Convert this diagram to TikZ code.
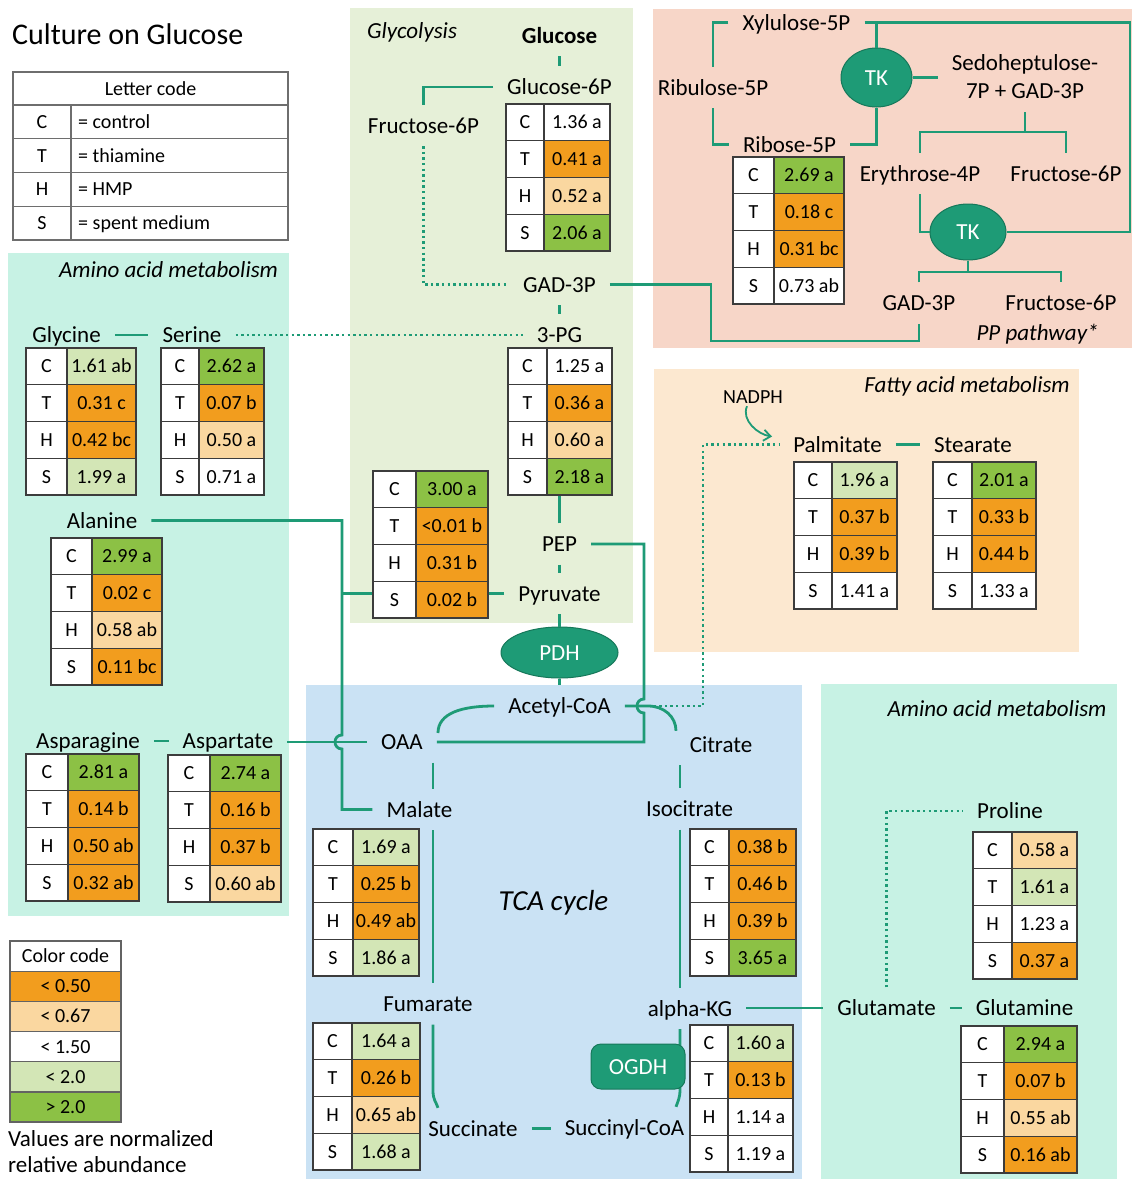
\documentclass[tikz,border=0pt]{standalone}
\usepackage{fontspec}
\setmainfont{Carlito}
\usetikzlibrary{shapes.geometric,arrows.meta,calc}

\definecolor{tealc}{RGB}{30,155,118}
\definecolor{tealdark}{RGB}{22,120,90}
\definecolor{cO}{RGB}{242,157,30}
\definecolor{cLO}{RGB}{250,215,160}
\definecolor{cLG}{RGB}{211,230,182}
\definecolor{cG}{RGB}{140,193,69}
\definecolor{bgGly}{RGB}{230,240,216}
\definecolor{bgPP}{RGB}{247,214,200}
\definecolor{bgFA}{RGB}{252,232,208}
\definecolor{bgAA}{RGB}{199,242,228}
\definecolor{bgTCA}{RGB}{202,226,244}
\definecolor{tabgray}{RGB}{60,60,60}
\definecolor{leggray}{RGB}{110,110,110}

\tikzset{
 lab/.style={font=\fontsize{23}{27}\selectfont, text height=15pt, text depth=0pt, inner xsep=14pt, inner ysep=13pt},
 labtwo/.style={font=\fontsize{23}{28}\selectfont, align=center, inner xsep=14pt, inner ysep=13pt},
 hdr/.style={font=\fontsize{23}{27}\selectfont\itshape, text height=15pt, text depth=0pt, inner sep=0pt},
 conn/.style={draw=tealc, line width=2.8pt},
 dotconn/.style={draw=tealc, line width=2.6pt, dash pattern=on 2.4pt off 3.2pt},
 cell/.style={draw=tabgray, line width=1.3pt, inner sep=0pt, minimum height=36.75pt, font=\fontsize{20}{24}\selectfont, text height=13pt, text depth=0pt},
 lcell/.style={draw=leggray, line width=1.3pt, inner sep=0pt, fill=white, font=\fontsize{20}{24}\selectfont, text height=13pt, text depth=0pt},
 ltxt/.style={inner sep=0pt, font=\fontsize{20}{24}\selectfont, text height=13pt, text depth=0pt},
 enz/.style={ellipse, fill=tealc, draw=tealdark, line width=1pt, text=white, inner sep=0pt, font=\fontsize{23}{27}\selectfont, text height=15pt, text depth=0pt},
 enzrect/.style={rectangle, rounded corners=10pt, fill=tealc, draw=tealdark, line width=1pt, text=white, inner sep=0pt, font=\fontsize{23}{27}\selectfont, text height=15pt, text depth=0pt},
}

\newcommand{\mtab}[6]{%
  \foreach \mtL/\mtC/\mtV [count=\mti from 0] in {#6}{%
    \pgfmathsetmacro{\mty}{#5+36.75*(\mti+0.5)}%
    \pgfmathsetmacro{\mtxa}{(#2+#3)/2}%
    \pgfmathsetmacro{\mtxb}{(#3+#4)/2}%
    \pgfmathsetmacro{\mtwa}{#3-#2}%
    \pgfmathsetmacro{\mtwb}{#4-#3}%
    \node[cell, fill=white, minimum width=\mtwa] (#1-l\mti) at (\mtxa,\mty) {\mtL};
    \node[cell, fill=\mtC, minimum width=\mtwb] (#1-v\mti) at (\mtxb,\mty) {\mtV};
  }%
}

\begin{document}
\begin{tikzpicture}[x=1pt,y=-1pt]
\useasboundingbox (0,0) rectangle (1132,1179);
\fill[white] (0,0) rectangle (1132,1179);

% backgrounds
\fill[bgGly] (350,8) rectangle (633,623);
\fill[bgPP] (653,9) rectangle (1132,348);
\fill[bgAA] (8,253) rectangle (289,916);
\fill[bgFA] (654,369) rectangle (1079,652);
\fill[bgTCA] (306,685) rectangle (802,1179);
\fill[bgAA] (821,684) rectangle (1117,1179);

% title
\node[anchor=base west, inner sep=0pt, font=\fontsize{30}{36}\selectfont] (title) at (12,44.5) {Culture on Glucose};

% letter code table
\node[lcell, minimum width=275, minimum height=33] (lc-h) at (150.5,88.5) {Letter code};
\foreach \a/\b [count=\i from 0] in {C/= control, T/= thiamine, H/= HMP, S/= spent medium}{
  \pgfmathsetmacro{\ly}{105+33.75*(\i+0.5)}
  \node[lcell, minimum width=58, minimum height=33.75] (lc-l\i) at (42,\ly) {\a};
  \node[lcell, minimum width=217, minimum height=33.75] (lc-r\i) at (179.5,\ly) {};
  \node[ltxt, anchor=west] (lc-t\i) at (78,\ly) {\b};
}

% color code table
\foreach \cc/\ct [count=\i from 0] in {white/Color code, cO/< 0.50, cLO/< 0.67, white/< 1.50, cLG/< 2.0, cG/> 2.0}{
  \pgfmathsetmacro{\cy}{941+30.17*(\i+0.5)}
  \node[lcell, draw=tabgray!80, fill=\cc, minimum width=111, minimum height=30.17] (cc-\i) at (65.5,\cy) {\ct};
}
\node[anchor=base west, inner sep=0pt, font=\fontsize{23}{28}\selectfont] (note1) at (8,1146.5) {Values are normalized};
\node[anchor=base west, inner sep=0pt, font=\fontsize{23}{28}\selectfont] (note2) at (8,1172) {relative abundance};

% ---------- labels ----------
% glycolysis
\node[hdr] (glyh) at (412,30.5) {Glycolysis};
\node[lab, font=\fontsize{23}{27}\selectfont\bfseries] (glucose) at (559.5,35.5) {Glucose};
\node[lab] (glu6p) at (559.5,87) {Glucose-6P};
\node[lab] (fru6p) at (423.5,125.5) {Fructose-6P};
\node[lab] (gad) at (559.5,284.5) {GAD-3P};
\node[lab] (pg3) at (559.5,335) {3-PG};
\node[lab] (pep) at (559.5,544) {PEP};
\node[lab] (pyr) at (559.5,593.5) {Pyruvate};
\node[enz, minimum width=117, minimum height=51] (pdh) at (559.5,652.5) {PDH};
\node[lab] (acoa) at (559.5,706) {Acetyl-CoA};

% TCA
\node[lab] (oaa) at (402,742) {OAA};
\node[lab] (citrate) at (721,744.5) {Citrate};
\node[lab] (malate) at (419.5,809.5) {Malate};
\node[lab] (isocit) at (689.5,809) {Isocitrate};
\node[lab] (fumarate) at (428,1004) {Fumarate};
\node[lab] (akg) at (690,1008.5) {alpha-KG};
\node[lab] (succ) at (473,1128.5) {Succinate};
\node[lab] (succoa) at (624.5,1127.5) {Succinyl-CoA};
\node[hdr, font=\fontsize{29}{33}\selectfont\itshape, text height=19pt] (tca) at (553.5,900.5) {TCA cycle};

% right amino acids
\node[hdr] (aa2) at (997,709) {Amino acid metabolism};
\node[lab] (glutamate) at (886.5,1008) {Glutamate};
\node[lab] (glutamine) at (1024.5,1008) {Glutamine};
\node[lab] (proline) at (1010,811) {Proline};

% left amino acids
\node[hdr] (aa1) at (168.5,270) {Amino acid metabolism};
\node[lab] (glycine) at (66.5,335) {Glycine};
\node[lab] (serine) at (192,335) {Serine};
\node[lab] (alanine) at (102,520.5) {Alanine};
\node[lab] (asparagine) at (88,741) {Asparagine};
\node[lab] (aspartate) at (228,741) {Aspartate};

% fatty acids
\node[hdr] (fah) at (967,384.5) {Fatty acid metabolism};
\node[lab, font=\fontsize{20}{24}\selectfont, inner sep=3pt, text height=13pt] (nadph) at (753,396.5) {NADPH};
\node[lab] (palmitate) at (837.5,444.5) {Palmitate};
\node[lab] (stearate) at (973,444.5) {Stearate};

% PP pathway
\node[lab] (xyl) at (796.5,22.5) {Xylulose-5P};
\node[lab] (rul) at (713,87.5) {Ribulose-5P};
\node[lab] (rib) at (789.5,144.5) {Ribose-5P};
\node[labtwo] (sedo) at (1025,77) {Sedoheptulose-\\7P + GAD-3P};
\node[lab] (ery) at (920,173.5) {Erythrose-4P};
\node[lab] (fru6pa) at (1066,173.5) {Fructose-6P};
\node[lab] (gadpp) at (919,303) {GAD-3P};
\node[lab] (fru6pb) at (1061,303) {Fructose-6P};
\node[hdr] (pph) at (1037.5,332.5) {PP pathway*};

% ---------- tables ----------
\mtab{t-g6p}{506}{544}{610}{104}{C/white/1.36 a, T/cO/0.41 a, H/cLO/0.52 a, S/cG/2.06 a}
\mtab{t-r5p}{733}{774}{844}{157}{C/cG/2.69 a, T/cO/0.18 c, H/cO/0.31 bc, S/white/0.73 ab}
\mtab{t-pg3}{508}{547}{612}{348}{C/white/1.25 a, T/cO/0.36 a, H/cLO/0.60 a, S/cG/2.18 a}
\mtab{t-pyr}{373}{416}{488}{471}{C/cG/3.00 a, T/cO/<0.01 b, H/cO/0.31 b, S/cO/0.02 b}
\mtab{t-gly}{26}{67}{136}{348}{C/cLG/1.61 ab, T/cO/0.31 c, H/cO/0.42 bc, S/cLG/1.99 a}
\mtab{t-ser}{161}{199}{264}{348}{C/cG/2.62 a, T/cO/0.07 b, H/cLO/0.50 a, S/white/0.71 a}
\mtab{t-ala}{51}{92}{162}{538}{C/cG/2.99 a, T/cO/0.02 c, H/cLO/0.58 ab, S/cO/0.11 bc}
\mtab{t-asn}{26}{68}{139}{754}{C/cG/2.81 a, T/cO/0.14 b, H/cO/0.50 ab, S/cO/0.32 ab}
\mtab{t-asp}{168}{210}{281}{755}{C/cG/2.74 a, T/cO/0.16 b, H/cO/0.37 b, S/cLO/0.60 ab}
\mtab{t-pal}{794}{832}{897}{462}{C/cLG/1.96 a, T/cO/0.37 b, H/cO/0.39 b, S/white/1.41 a}
\mtab{t-ste}{933}{972}{1036}{462}{C/cG/2.01 a, T/cO/0.33 b, H/cO/0.44 b, S/white/1.33 a}
\mtab{t-mal}{313}{353}{419}{829}{C/cLG/1.69 a, T/cO/0.25 b, H/cO/0.49 ab, S/cLG/1.86 a}
\mtab{t-ict}{690}{729}{796}{829}{C/cO/0.38 b, T/cO/0.46 b, H/cO/0.39 b, S/cG/3.65 a}
\mtab{t-fum}{313}{352}{420}{1023}{C/cLG/1.64 a, T/cO/0.26 b, H/cLO/0.65 ab, S/cLG/1.68 a}
\mtab{t-akg}{690}{728}{793}{1025}{C/cLG/1.60 a, T/cO/0.13 b, H/white/1.14 a, S/white/1.19 a}
\mtab{t-pro}{973}{1012}{1077}{832}{C/cLO/0.58 a, T/cLG/1.61 a, H/white/1.23 a, S/cO/0.37 a}
\mtab{t-gln}{961}{1004}{1077}{1026}{C/cG/2.94 a, T/cO/0.07 b, H/cLO/0.55 ab, S/cO/0.16 ab}

% ---------- helper coordinates ----------
\coordinate (hopAT) at (342,735);
\coordinate (hopAB) at (342,749);
\coordinate (hopBT) at (644,699);
\coordinate (hopBB) at (644,713);
\coordinate (acj) at (648,706);
\coordinate (facorner) at (703,706);
\coordinate (gc1) at (711,341);
\coordinate (ppR) at (1130,232);
\coordinate (sbr) at (1025,132);
\coordinate (tbr) at (968,272);

% ---------- connectors ----------
% glycolysis
\draw[conn] (glucose.south) -- (glu6p.north);
\draw[conn] (glu6p.west) -| (fru6p.north);
\draw[dotconn] (fru6p.south) |- (gad.west);
\draw[conn] (gad.south) -- (pg3.north);
\draw[conn] (pep.north) -- (pep.north |- t-pg3-v3.south);
\draw[conn] (pep.south) -- (pyr.north);
\draw[conn] (pyr.south) -- (pdh.north);
\draw[conn] (pdh.south) -- (acoa.north);
\draw[conn] (pyr.west) -- (pyr.west -| t-pyr-v3.east);
\draw[conn] (t-pyr-l3.west |- pyr.west) -- (hopAT |- pyr.west);

% amino acids left
\draw[conn] (glycine.east) -- (serine.west);
\draw[dotconn] (serine.east) -- (serine.east -| pg3.west);
\draw[conn] (alanine.east) -| (hopAT) .. controls +(-9.3,0) and +(-9.3,0) .. (hopAB) |- (malate.west);
\draw[conn] (asparagine.east) -- (asparagine.east -| aspartate.west);
\draw[conn] (aspartate.east |- oaa.west) -- (oaa.west);

% PEP to OAA
\draw[conn] (pep.east) -| (hopBT) .. controls +(-9.3,0) and +(-9.3,0) .. (hopBB) |- (oaa.east);

% TCA
\draw[conn] ([shift={(1,-9)}]oaa.east) .. controls +(0,-20) and +(-32,0) .. (acoa.west);
\draw[conn] (acoa.east) -- (acj) .. controls +(16,0) and +(0,-14) .. ([shift={(-45,7)}]citrate.north);
\draw[dotconn] (acj) -- (facorner) |- (palmitate.west);
\draw[conn] ([xshift=31pt]oaa.south) -- ([xshift=13.5pt]malate.north);
\draw[conn] ([xshift=-41pt]citrate.south) -- ([xshift=-9.5pt]isocit.north);
\draw[conn] ([xshift=13.5pt]malate.south) -- ([xshift=5pt]fumarate.north);
\draw[conn] ([xshift=-9.5pt]isocit.south) -- ([xshift=-10pt]akg.north);
\draw[conn] ([xshift=5pt]fumarate.south) -- ++(0,66) .. controls +(0,9) and +(-2,-6) .. ([xshift=-35pt]succ.north);
\draw[conn] ([xshift=-10pt]akg.south) -- ++(0,60) .. controls +(0,9) and +(2,-6) .. ([xshift=51.5pt]succoa.north);
\draw[conn] (succ.east) -- (succ.east -| succoa.west);
\node[enzrect, minimum width=94, minimum height=45] (ogdh) at (638,1066.5) {OGDH};

% amino acids right
\draw[conn] (akg.east |- glutamate.west) -- (glutamate.west);
\draw[conn] (glutamate.east) -- (glutamine.west);
\draw[dotconn] (glutamate.north) |- (proline.west);

% fatty acids
\draw[conn] (palmitate.east) -- (stearate.west);
\draw[draw=tealc, line width=1.8pt, -{Straight Barb[length=7pt,width=11pt]}] ([xshift=-6pt]nadph.south) .. controls +(-6,14) and +(-14,-2) .. ([shift={(-7,-8)}]palmitate.west);

% PP pathway
\node[enz, minimum width=71, minimum height=59] (tk1) at (876.5,77.5) {TK};
\node[enz, minimum width=76, minimum height=56] (tk2) at (968,232) {TK};
\draw[conn] (xyl.west) -| (rul.north);
\draw[conn] (rul.south) |- (rib.west);
\draw[conn] (xyl.east) -| (ppR) -- (tk2.east);
\draw[conn] (tk1.north) -- (tk1.north |- xyl.east);
\draw[conn] (tk1.east) -- (tk1.east -| sedo.west);
\draw[conn] (tk1.south) |- (rib.east);
\draw[conn] (sedo.south) -- (sbr);
\draw[conn] (ery.north) |- (sbr) -| (fru6pa.north);
\draw[conn] (ery.south) |- (tk2.west);
\draw[conn] (tk2.south) -- (tbr);
\draw[conn] (gadpp.north) |- (tbr) -| (fru6pb.north);
\draw[conn] (gad.east) -| (gc1) -| (gadpp.south);
\end{tikzpicture}
\end{document}
